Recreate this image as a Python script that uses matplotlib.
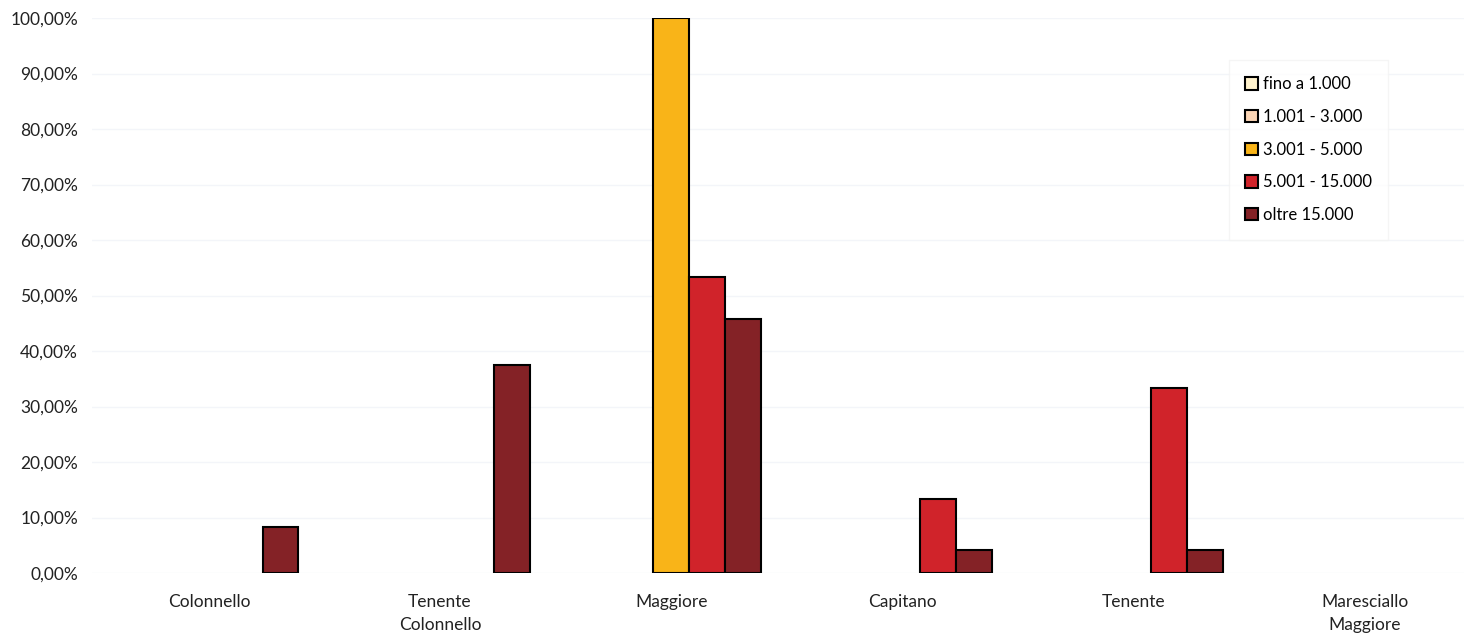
import numpy as np
import matplotlib
matplotlib.use('Agg')
import matplotlib.pyplot as plt
from matplotlib.ticker import FuncFormatter

# categories and series (percent values)
categories = ['Colonnello', 'Tenente\nColonnello', 'Maggiore', 'Capitano', 'Tenente',
              'Maresciallo\nMaggiore']
series_names = ['fino a 1.000', '1.001 - 3.000', '3.001 - 5.000', '5.001 - 15.000', 'oltre 15.000']
fino_1000 = [0, 0, 0, 0, 0, 0]
da_1001_3000 = [0, 0, 0, 0, 0, 0]
da_3001_5000 = [0, 0, 100.0, 0, 0, 0]
da_5001_15000 = [0, 0, 53.33, 13.33, 33.33, 0]
oltre_15000 = [8.33, 37.5, 45.83, 4.17, 4.17, 0]
colors = ['#FFF2CC', '#FBD5B5', '#F9B418', '#D0232A', '#842226']

plt.rcParams['font.family'] = ['Lato', 'DejaVu Sans']

fig = plt.figure(figsize=(14.64, 6.34), dpi=100)
ax = fig.add_axes([0.0628, 0.0962, 0.9372, 0.8754])

values = [fino_1000, da_1001_3000, da_3001_5000, da_5001_15000, oltre_15000]
x = np.arange(len(categories))
width = 0.155
for i, (name, vals) in enumerate(zip(series_names, values)):
    offs = (i - 2) * width
    heights = np.array(vals, dtype=float)
    # zero values get no outline, like the original
    lw = np.where(heights > 0, 1.5, 0)
    ax.bar(x + offs, heights, width, color=colors[i], edgecolor='black',
           linewidth=lw, zorder=3)
    # legend proxy
    ax.bar([np.nan], [np.nan], width, color=colors[i], edgecolor='black',
           linewidth=1.5, label=name)

ax.set_ylim(0, 100)
ax.set_xlim(-0.506, 5.43)
ax.set_yticks(np.arange(0, 101, 10))
ax.yaxis.set_major_formatter(FuncFormatter(lambda v, p: f'{v:.2f}%'.replace('.', ',')))
ax.set_xticks(x)
ax.set_xticklabels(categories, linespacing=1.55)
ax.tick_params(axis='both', length=0, labelsize=12.5, colors='#222222')
ax.tick_params(axis='x', pad=15)
ax.tick_params(axis='y', pad=10)
ax.grid(axis='y', color='#F3F5F9', linewidth=1, zorder=0)
for s in ax.spines.values():
    s.set_visible(False)

leg = ax.legend(loc='upper left', bbox_to_anchor=(0.826, 0.931), frameon=True,
                fontsize=12, handlelength=0.75, handleheight=0.75, handletextpad=0.3,
                labelspacing=1.0, borderpad=0.7)
leg.get_frame().set_edgecolor('#F3F3F3')
leg.get_frame().set_linewidth(1)
leg.get_frame().set_boxstyle('square')

fig.savefig('out.png', dpi=100)
